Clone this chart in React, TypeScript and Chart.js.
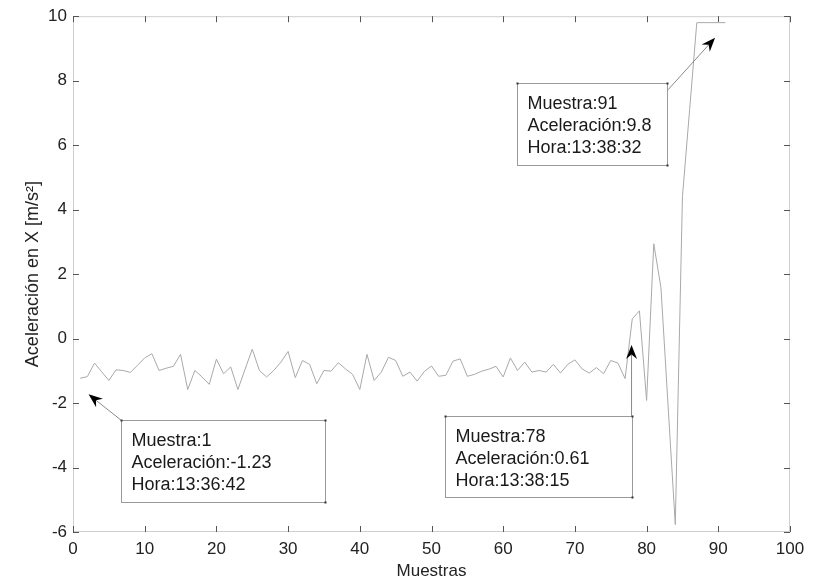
import React, { useEffect, useRef } from 'react';
import { Chart, registerables } from 'chart.js';

Chart.register(...registerables);

// ---------- data ----------
const muestras = [
  1, 2, 3, 4, 5, 6, 7, 8, 9, 10,
  11, 12, 13, 14, 15, 16, 17, 18, 19, 20,
  21, 22, 23, 24, 25, 26, 27, 28, 29, 30,
  31, 32, 33, 34, 35, 36, 37, 38, 39, 40,
  41, 42, 43, 44, 45, 46, 47, 48, 49, 50,
  51, 52, 53, 54, 55, 56, 57, 58, 59, 60,
  61, 62, 63, 64, 65, 66, 67, 68, 69, 70,
  71, 72, 73, 74, 75, 76, 77, 78, 79, 80,
  81, 82, 83, 84, 85, 86, 87, 88, 89, 90,
  91,
];

const aceleracionX = [
  -1.23, -1.18, -0.76, -1.03, -1.30, -0.97, -0.99, -1.05, -0.83, -0.60,
  -0.47, -0.99, -0.92, -0.86, -0.49, -1.58, -0.99, -1.19, -1.42, -0.64,
  -1.09, -0.88, -1.58, -0.95, -0.33, -0.99, -1.19, -0.99, -0.73, -0.40,
  -1.21, -0.68, -0.80, -1.40, -0.99, -1.01, -0.75, -0.94, -1.11, -1.58,
  -0.49, -1.30, -1.04, -0.58, -0.68, -1.17, -1.04, -1.32, -1.02, -0.85,
  -1.17, -1.14, -0.70, -0.63, -1.17, -1.11, -1.01, -0.95, -0.86, -1.19,
  -0.60, -0.99, -0.73, -1.04, -0.99, -1.04, -0.80, -1.07, -0.80, -0.66,
  -0.94, -1.07, -0.90, -1.09, -0.68, -0.76, -1.24, 0.61, 0.86, -1.92,
  2.94, 1.58, -2.10, -5.77, 4.40, 7.10, 9.80, 9.80, 9.80, 9.80,
  9.80,
];

const xTicks = [0, 10, 20, 30, 40, 50, 60, 70, 80, 90, 100];
const yTicks = [-6, -4, -2, 0, 2, 4, 6, 8, 10];

// data tips
const tipMuestra = [1, 78, 91];
const tipAceleracion = ['-1.23', '0.61', '9.8'];
const tipHora = ['13:36:42', '13:38:15', '13:38:32'];

// ---------- layout of the data-tip boxes (in data units) ----------
const tipLayout = [
  { left: 6.7, right: 35.2, top: -2.53, bottom: -5.08, fromX: 6.7, fromY: -2.53, toX: 2.17, toY: -1.73 },
  { left: 51.9, right: 77.9, top: -2.4, bottom: -4.92, fromX: 77.9, fromY: -2.4, toX: 77.9, toY: -0.2 },
  { left: 61.9, right: 82.8, top: 7.92, bottom: 5.39, fromX: 83.0, fromY: 7.72, toX: 89.55, toY: 9.33 },
];

const FONT = "'Liberation Sans', Arial, Helvetica, sans-serif";

function drawArrow(ctx: CanvasRenderingContext2D, x1: number, y1: number, x2: number, y2: number) {
  const ang = Math.atan2(y2 - y1, x2 - x1);
  const dx = Math.cos(ang), dy = Math.sin(ang);
  const px = -dy, py = dx;
  const L = 14, W = 5.5, N = 4.5;
  ctx.save();
  ctx.strokeStyle = '#8a8a8a';
  ctx.lineWidth = 1;
  ctx.beginPath();
  ctx.moveTo(x1, y1);
  ctx.lineTo(x2 - dx * (L - N), y2 - dy * (L - N));
  ctx.stroke();
  ctx.fillStyle = '#000';
  ctx.beginPath();
  ctx.moveTo(x2, y2);
  ctx.lineTo(x2 - dx * L + px * W, y2 - dy * L + py * W);
  ctx.lineTo(x2 - dx * (L - N), y2 - dy * (L - N));
  ctx.lineTo(x2 - dx * L - px * W, y2 - dy * L - py * W);
  ctx.closePath();
  ctx.fill();
  ctx.restore();
}

const framePlugin = {
  id: 'matlabFrame',
  beforeDatasetsDraw(chart: any) {
    const { ctx, chartArea: a, scales } = chart;
    ctx.save();
    ctx.strokeStyle = '#cfcfcf';
    ctx.lineWidth = 1;
    ctx.strokeRect(a.left + 0.5, a.top + 0.5, a.right - a.left - 1, a.bottom - a.top - 1);
    ctx.strokeStyle = '#555';
    const tl = 6;
    ctx.beginPath();
    xTicks.forEach((v) => {
      const x = Math.round(scales.x.getPixelForValue(v)) + 0.5;
      ctx.moveTo(x, a.bottom);
      ctx.lineTo(x, a.bottom - tl);
      ctx.moveTo(x, a.top);
      ctx.lineTo(x, a.top + tl);
    });
    yTicks.forEach((v) => {
      const y = Math.round(scales.y.getPixelForValue(v)) + 0.5;
      ctx.moveTo(a.left, y);
      ctx.lineTo(a.left + tl, y);
      ctx.moveTo(a.right, y);
      ctx.lineTo(a.right - tl, y);
    });
    ctx.stroke();
    ctx.restore();
  },
  afterDatasetsDraw(chart: any) {
    const { ctx, scales } = chart;
    const sx = (v: number) => scales.x.getPixelForValue(v);
    const sy = (v: number) => scales.y.getPixelForValue(v);
    tipLayout.forEach((b, i) => {
      const l = Math.round(sx(b.left)) + 0.5;
      const r = Math.round(sx(b.right)) + 0.5;
      const t = Math.round(sy(b.top)) + 0.5;
      const bt = Math.round(sy(b.bottom)) + 0.5;
      ctx.save();
      ctx.fillStyle = '#ffffff';
      ctx.fillRect(l, t, r - l, bt - t);
      ctx.strokeStyle = '#9a9a9a';
      ctx.lineWidth = 1;
      ctx.strokeRect(l, t, r - l, bt - t);
      ctx.fillStyle = '#333';
      [[l, t], [r, t], [r, bt]].forEach(([cx, cy]) => ctx.fillRect(cx - 1, cy - 1, 2, 2));
      ctx.fillStyle = '#1a1a1a';
      ctx.font = `18px ${FONT}`;
      ctx.textBaseline = 'alphabetic';
      ctx.textAlign = 'left';
      const lines = [
        `Muestra:${tipMuestra[i]}`,
        `Aceleración:${tipAceleracion[i]}`,
        `Hora:${tipHora[i]}`,
      ];
      lines.forEach((s, k) => ctx.fillText(s, l + 10, t + 25 + k * 22.3));
      ctx.restore();
      drawArrow(ctx, sx(b.fromX), sy(b.fromY), sx(b.toX), sy(b.toY));
    });
  },
};

export default function App() {
  const ref = useRef<HTMLCanvasElement | null>(null);

  useEffect(() => {
    if (!ref.current) return;
    const chart = new Chart(ref.current, {
      type: 'line',
      data: {
        datasets: [
          {
            label: 'Aceleración en X',
            data: muestras.map((m, i) => ({ x: m, y: aceleracionX[i] })),
            borderColor: '#a9a9a9',
            borderWidth: 1,
            pointRadius: 0,
            tension: 0,
            fill: false,
          },
        ],
      },
      options: {
        responsive: false,
        animation: false,
        layout: { padding: { left: 0, top: 13, right: 25, bottom: 0 } },
        plugins: {
          legend: { display: false },
          tooltip: { enabled: false },
        },
        scales: {
          x: {
            type: 'linear',
            min: 0,
            max: 100,
            afterBuildTicks: (s: any) => { s.ticks = xTicks.map((v) => ({ value: v })); },
            afterFit: (s: any) => { s.height = 50; },
            grid: { display: false, drawTicks: false },
            border: { display: false },
            ticks: { color: '#222', font: { family: FONT, size: 17 }, padding: 7, autoSkip: false, maxRotation: 0 },
            title: { display: true, text: 'Muestras', color: '#222', font: { family: FONT, size: 17 }, padding: { top: 0, bottom: 0 } },
          },
          y: {
            type: 'linear',
            min: -6,
            max: 10,
            afterBuildTicks: (s: any) => { s.ticks = yTicks.map((v) => ({ value: v })); },
            afterFit: (s: any) => { s.width = 73; },
            grid: { display: false, drawTicks: false },
            border: { display: false },
            ticks: { color: '#222', font: { family: FONT, size: 17 }, padding: 6, autoSkip: false },
            title: { display: true, text: 'Aceleración en X [m/s²]', color: '#222', font: { family: FONT, size: 18 }, padding: { top: 22, bottom: 0 } },
          },
        },
      },
      plugins: [framePlugin],
    } as any);
    return () => chart.destroy();
  }, []);

  return (
    <div style={{ position: 'fixed', left: 0, top: 0, width: 815, height: 582, background: '#fff' }}>
      <canvas ref={ref} width={815} height={582} style={{ display: 'block' }} />
    </div>
  );
}
